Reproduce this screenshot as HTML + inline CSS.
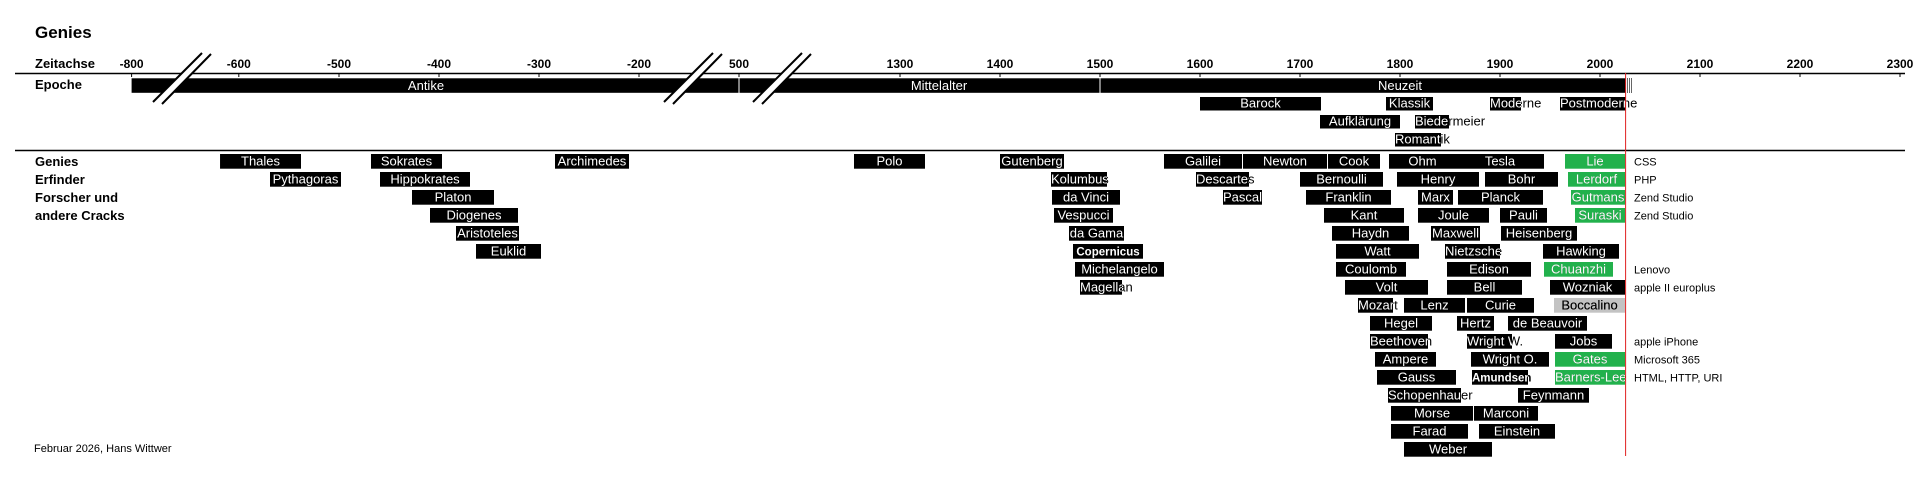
<!DOCTYPE html>
<html><head><meta charset="utf-8"><style>
html,body{margin:0;padding:0;background:#fff;}
svg{display:block;font-family:"Liberation Sans",sans-serif;}
</style></head><body>
<svg id="chart" width="1920" height="480" viewBox="0 0 1920 480" xmlns="http://www.w3.org/2000/svg">
<text x="35" y="38" font-size="17" font-weight="bold">Genies</text>
<text x="35" y="68" font-size="13" font-weight="bold">Zeitachse</text>
<text x="35" y="89" font-size="13" font-weight="bold">Epoche</text>
<g font-size="13" font-weight="bold">
<text x="35" y="166">Genies</text><text x="35" y="184">Erfinder</text><text x="35" y="202">Forscher und</text><text x="35" y="220">andere Cracks</text>
</g>
<line x1="15" y1="73.5" x2="1905" y2="73.5" stroke="#000" stroke-width="1.5"/>
<line x1="15" y1="150.5" x2="1905" y2="150.5" stroke="#000" stroke-width="1.5"/>
<g id="ticks"></g>
<g id="epochs"></g>
<g id="breaks"></g>
<g id="genies"></g>
<line x1="1625.6" y1="73" x2="1625.6" y2="456" stroke="#e02020" stroke-width="1"/>
<text x="34" y="452" font-size="11">Februar 2026, Hans Wittwer</text>
<defs id="defs"></defs>
</svg>
<script>
const tickYears=[-800,-600,-500,-400,-300,-200,500,1300,1400,1500,1600,1700,1800,1900,2000,2100,2200,2300];
const epochNames=["Antike","Mittelalter","Neuzeit","Barock","Klassik","Moderne","Postmoderne","Aufklärung","Biedermeier","Romantik"];
const epochStart=[-800,500,1500,1600,1786,1890,1960,1720,1815,1795];
const epochEnd=[500,1500,2026,1721,1833,1921,2026,1800,1849,1841];
const epochRow=[-1,-1,-1,0,0,0,0,1,1,2];
const epochLabelYear=[-413,1339,1800,null,null,null,null,null,null,null];
const genieNames=["Thales","Sokrates","Archimedes","Polo","Gutenberg","Galilei","Newton","Cook","Ohm","Tesla","Lie",
"Pythagoras","Hippokrates","Kolumbus","Descartes","Bernoulli","Henry","Bohr","Lerdorf",
"Platon","da Vinci","Pascal","Franklin","Marx","Planck","Gutmans",
"Diogenes","Vespucci","Kant","Joule","Pauli","Suraski",
"Aristoteles","da Gama","Haydn","Maxwell","Heisenberg",
"Euklid","Copernicus","Watt","Nietzsche","Hawking",
"Michelangelo","Coulomb","Edison","Chuanzhi",
"Magellan","Volt","Bell","Wozniak",
"Mozart","Lenz","Curie","Boccalino",
"Hegel","Hertz","de Beauvoir",
"Beethoven","Wright W.","Jobs",
"Ampere","Wright O.","Gates",
"Gauss","Amundsen","Barners-Lee",
"Schopenhauer","Feynmann","Morse","Marconi","Farad","Einstein","Weber"];
const genieStart=[-635,-468,-284,1254,1400,1564,1643,1728,1789,1856,1965,
-569,-459,1451,1596,1700,1797,1885,1968,
-427,1452,1623,1706,1818,1858,1971,
-409,1454,1724,1818,1900,1975,
-383,1469,1732,1831,1901,
-363,1473,1736,1845,1943,
1475,1736,1847,1944,
1480,1745,1847,1950,
1758,1804,1867,1954,
1770,1857,1908,
1770,1867,1955,
1775,1871,1955,
1777,1872,1955,
1788,1918,1791,1874,1791,1879,1804];
const genieEnd=[-538,-397,-210,1325,1464,1642,1727,1780,1856,1944,2025,
-498,-369,1507,1649,1783,1879,1958,2025,
-345,1520,1662,1791,1853,1943,2025,
-321,1513,1804,1889,1947,2025,
-320,1524,1809,1880,1977,
-298,1543,1819,1900,2019,
1564,1806,1931,2013,
1522,1828,1922,2025,
1793,1865,1934,2025,
1832,1894,1987,
1828,1912,2012,
1836,1949,2025,
1856,1928,2025,
1861,1989,1873,1938,1868,1955,1892];
const genieRow=[0,0,0,0,0,0,0,0,0,0,0,
1,1,1,1,1,1,1,1,
2,2,2,2,2,2,2,
3,3,3,3,3,3,
4,4,4,4,4,
5,5,5,5,5,
6,6,6,6,
7,7,7,7,
8,8,8,8,
9,9,9,
10,10,10,
11,11,11,
12,12,12,
13,13,14,14,15,15,16];
const genieKind=["b","b","b","b","b","b","b","b","b","b","g",
"b","b","b","b","b","b","b","g",
"b","b","b","b","b","b","g",
"b","b","b","b","b","g",
"b","b","b","b","b",
"b","B","b","b","b",
"b","b","b","g",
"b","b","b","b",
"b","b","b","s",
"b","b","b",
"b","b","b",
"b","b","g",
"b","B","g",
"b","b","b","b","b","b","b"];
const noteRows=[0,1,2,3,6,7,10,11,12];
const noteTexts=["CSS","PHP","Zend Studio","Zend Studio","Lenovo","apple II europlus","apple iPhone","Microsoft 365","HTML, HTTP, URI"];

const NS="http://www.w3.org/2000/svg";
function x(y){
  if(y<=-600) return 131.6+(y+800)*(238.8-131.6)/200;
  if(y<=-200) return 339+(y+500);
  if(y<=500) return 638.7+(y+200)*(739-638.7)/700;
  if(y<1200) return 739+(y-500)*(800-739)/700;
  return 1100+(y-1500);
}
function rowY(r){return 154+18*r;}
function mk(tag,attrs,parent){const e=document.createElementNS(NS,tag);for(const k in attrs)e.setAttribute(k,attrs[k]);parent.appendChild(e);return e;}
const ticks=document.getElementById('ticks');
tickYears.forEach(t=>{
  const g=mk('g',{},ticks);
  
  
  mk('line',{x1:x(t),x2:x(t),y1:73,y2:77,stroke:'#000'},g);
  const tx=mk('text',{x:x(t),y:68,'font-size':12,'font-weight':'bold','text-anchor':'middle'},g);
  tx.textContent=t;
});
const defs=document.getElementById('defs');
let cid=0;
function labeledBar(parent,name,x0,x1,y0,h,fill,txtColor,bold,labelX){
  const g=mk('g',{},parent);
  
  
  mk('rect',{x:x0,y:y0,width:x1-x0,height:h,fill:fill},g);
  const id='c'+(cid++);
  const cp=mk('clipPath',{id:id},defs);
  mk('rect',{x:x0,y:y0,width:x1-x0,height:h},cp);
  const fs=bold?11.5:13;
  const t1=mk('text',{y:y0+h-3,'font-size':fs,'font-weight':bold?'bold':'normal',fill:'#000'},g);
  t1.textContent=name;
  const w=t1.getComputedTextLength();
  let tx;
  if(labelX!=null) tx=labelX-w/2; else if(w>x1-x0) tx=x0; else tx=(x0+x1)/2-w/2;
  t1.setAttribute('x',tx);
  const t2=mk('text',{x:tx,y:y0+h-3,'font-size':fs,'font-weight':bold?'bold':'normal',fill:txtColor,'clip-path':'url(#'+id+')'},g);
  t2.textContent=name;
}
const ep=document.getElementById('epochs');
epochNames.forEach((n,i)=>{
  const r=epochRow[i];
  const y0=r<0?78.3:97+18*r;
  const lx=epochLabelYear[i]!=null?x(epochLabelYear[i]):null;
  labeledBar(ep,n,x(epochStart[i]),x(epochEnd[i]),y0,r<0?14.5:13.5,'#000','#fff',false,lx);
});
[500,1500].forEach(v=>{mk('line',{x1:x(v),x2:x(v),y1:78,y2:93,stroke:'#fff'},ep);});
[1627.5,1629.5,1631.5].forEach(v=>{mk('line',{x1:v,x2:v,y1:78,y2:93,stroke:'#000','stroke-width':0.6},ep);});
const br=document.getElementById('breaks');
[182,693,782].forEach((c,i)=>{
  const g=mk('g',{},br);
  
  
  mk('polygon',{points:`${c-29},102 ${c+20},53 ${c+29},54 ${c-20},104`,fill:'#fff'},g);
  mk('line',{x1:c-29,y1:102,x2:c+20,y2:53,stroke:'#000','stroke-width':2},g);
  mk('line',{x1:c-20,y1:104,x2:c+29,y2:54,stroke:'#000','stroke-width':2},g);
});
const gg=document.getElementById('genies');
genieNames.forEach((n,i)=>{
  const k=genieKind[i];
  const fill=k==='g'?'#22b14c':k==='s'?'#c3c3c3':'#000';
  const tc=k==='s'?'#000':'#fff';
  labeledBar(gg,n,x(genieStart[i]),x(genieEnd[i]),rowY(genieRow[i]),14.7,fill,tc,k==='B',null);
});
noteRows.forEach((r,i)=>{
  const t=mk('text',{x:1634,y:rowY(r)+11.5,'font-size':11},gg);
  
  
  t.textContent=noteTexts[i];
});
</script>
</body></html>
